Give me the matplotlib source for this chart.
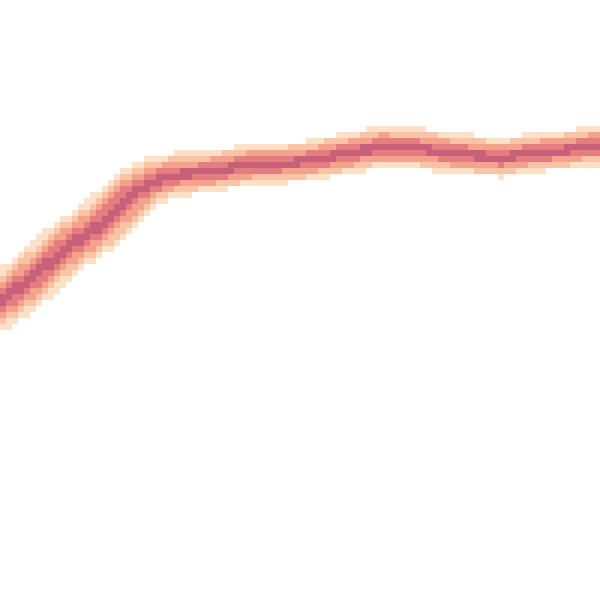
import numpy as np
import matplotlib
matplotlib.use('Agg')
import matplotlib.pyplot as plt
from matplotlib.colors import ListedColormap, BoundaryNorm

# centre line of the band (grid units, 100 x 100 cells)
line_x = [0, 5.5, 11.2, 16.7, 22.2, 25.5, 28.8, 33.3, 41.7, 50, 58.3, 63.8, 69.5, 75, 83.3, 88.8, 94.5, 100]
line_y = [49.7, 53.8, 58.8, 62.5, 67.8, 69.7, 70.8, 71.2, 72.5, 73.0, 74.5, 75.5, 75.3, 74.5, 73.7, 74.5, 75.0, 75.8]
# half width of the band at each point
spread = [3.9, 3.9, 3.9, 3.9, 3.8, 3.5, 3.2, 3.0, 3.0, 2.9, 3.0, 3.0, 2.9, 3.0, 2.8, 2.8, 2.8, 2.8]

colors = ['#fde0c8', '#f9c3a6', '#f3a28c', '#e47d80', '#c9607a']
# relative distance from the centre where each colour starts (outer to inner)
edges = [1.15, 0.9, 0.68, 0.45, 0.2]

n = 100
xs = np.arange(n) + 0.5
ys = np.arange(n) + 0.5
gx, gy = np.meshgrid(xs, ys)

# sample the polyline finely and take distance from each cell to it
t = np.linspace(0, 100, 2000)
py = np.interp(t, line_x, line_y)
pw = np.interp(t, line_x, spread)
d = np.full(gx.shape, np.inf)
w = np.zeros(gx.shape)
for a, b, s in zip(t, py, pw):
    dd = np.hypot(gx - a, gy - b)
    m = dd < d
    d[m] = dd[m]
    w[m] = s

r = d / w
level = np.ma.masked_where(r >= edges[0], r)

cmap = ListedColormap(colors[::-1])
norm = BoundaryNorm([0] + edges[::-1], cmap.N)

fig = plt.figure(figsize=(6, 6), dpi=100)
ax = fig.add_axes([0, 0, 1, 1])
ax.pcolormesh(np.arange(n + 1), np.arange(n + 1), level, cmap=cmap, norm=norm)
ax.set_xlim(0, 100)
ax.set_ylim(0, 100)
ax.axis('off')
fig.savefig('out.png')
